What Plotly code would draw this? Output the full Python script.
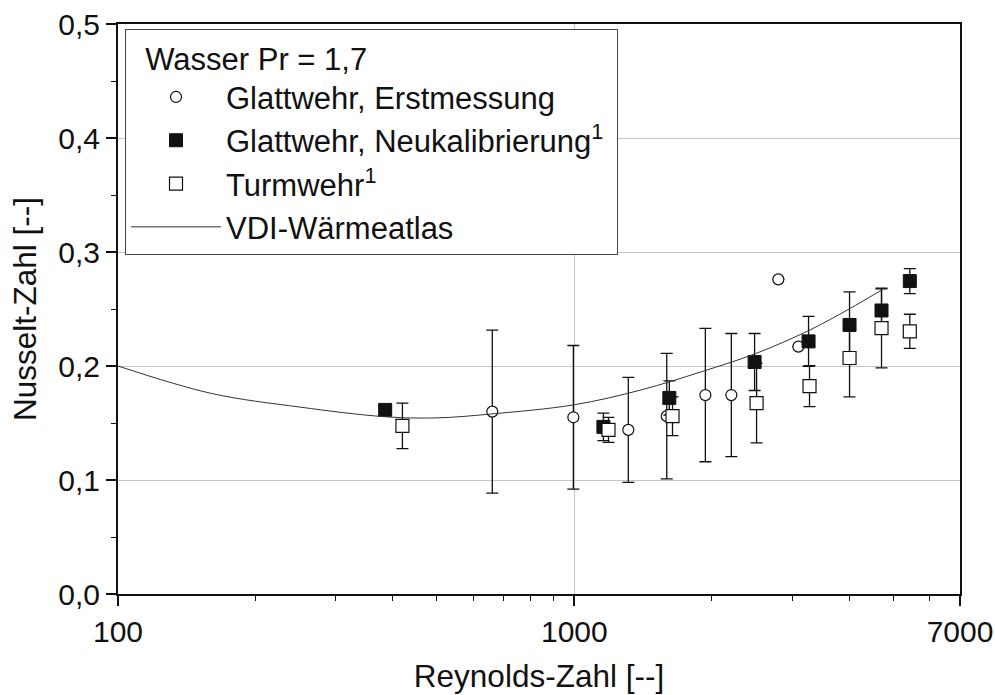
import plotly.graph_objects as go

# --- data ---
# Glattwehr, Erstmessung (open circles)
re_erst = [661, 995, 1313, 1594, 1937, 2208, 2799, 3097]
nu_erst = [0.160, 0.155, 0.144, 0.156, 0.1745, 0.1745, 0.276, 0.217]
err_erst = [0.0715, 0.063, 0.046, 0.055, 0.0585, 0.054, 0.0, 0.0]

# Glattwehr, Neukalibrierung (filled squares)
re_neu = [385, 1158, 1615, 2483, 3260, 4009, 4711, 5434]
nu_neu = [0.1615, 0.1466, 0.172, 0.2035, 0.2216, 0.2360, 0.2487, 0.2745]
err_neu = [0.0, 0.012, 0.015, 0.025, 0.022, 0.029, 0.019, 0.011]

# Turmwehr (open squares)
re_turm = [420, 1188, 1641, 2508, 3276, 4009, 4711, 5434]
nu_turm = [0.1475, 0.144, 0.156, 0.1675, 0.1824, 0.207, 0.2333, 0.2304]
err_turm = [0.020, 0.011, 0.017, 0.035, 0.018, 0.034, 0.035, 0.015]

# VDI-Wärmeatlas curve
re_vdi = [100, 160, 250, 385, 500, 661, 1000, 1400, 1900, 2500, 3260, 4000, 4730]
nu_vdi = [0.200, 0.176, 0.164, 0.1555, 0.1545, 0.158, 0.166, 0.179, 0.195, 0.211, 0.231, 0.250, 0.267]

x_tickvals = [100, 1000, 7000]
x_ticktext = ["100", "1000", "7000"]
x_minor = [200, 300, 400, 500, 600, 700, 800, 900, 2000, 3000, 4000, 5000, 6000]

FONT = "Liberation Sans, Arial, sans-serif"
BLACK = "#111111"

fig = go.Figure()

fig.add_trace(go.Scatter(
    x=re_erst, y=nu_erst, mode="markers", name="Glattwehr, Erstmessung",
    marker=dict(symbol="circle", size=11, color="white", line=dict(color=BLACK, width=1.2)),
    error_y=dict(type="data", array=err_erst, visible=True, color=BLACK, thickness=1.3, width=6),
))
fig.add_trace(go.Scatter(
    x=re_neu, y=nu_neu, mode="markers", name="Glattwehr, Neukalibrierung<sup>1</sup>\u00a0",
    marker=dict(symbol="square", size=13, color=BLACK, line=dict(color=BLACK, width=1)),
    error_y=dict(type="data", array=err_neu, visible=True, color=BLACK, thickness=1.3, width=6),
))
fig.add_trace(go.Scatter(
    x=re_turm, y=nu_turm, mode="markers", name="Turmwehr<sup>1</sup>",
    marker=dict(symbol="square", size=13, color="white", line=dict(color=BLACK, width=1.2)),
    error_y=dict(type="data", array=err_turm, visible=True, color=BLACK, thickness=1.3, width=6),
))
fig.add_trace(go.Scatter(
    x=re_vdi, y=nu_vdi, mode="lines", name="VDI-Wärmeatlas",
    line=dict(color="#333333", width=1, shape="spline"),
))

fig.update_layout(
    width=995, height=695,
    margin=dict(l=118, r=35, t=24, b=101),
    paper_bgcolor="white", plot_bgcolor="white",
    separators=",.",
    font=dict(family=FONT, size=30, color=BLACK),
    showlegend=True,
    legend=dict(
        x=7 / 842, y=1 - 5 / 570, xanchor="left", yanchor="top",
        bgcolor="white", bordercolor="#444444", borderwidth=1,
        font=dict(family=FONT, size=31, color=BLACK),
        title=dict(text="\u00a0\u00a0Wasser Pr = 1,7", font=dict(family=FONT, size=31, color=BLACK)),
        tracegroupgap=0,
        itemwidth=90,
    ),
    xaxis=dict(
        type="log", range=[2, 3.845098],
        tickmode="array", tickvals=x_tickvals, ticktext=x_ticktext,
        ticks="outside", ticklen=10, tickwidth=1.5, tickcolor=BLACK,
        showline=True, linewidth=2, linecolor=BLACK, mirror=True,
        showgrid=True, gridcolor="#c4c4c4", gridwidth=1,
        zeroline=False, automargin=False,
        tickfont=dict(size=30),
        title=dict(text="Reynolds-Zahl [--]", font=dict(size=31.5), standoff=18),
        minor=dict(tickmode="array", tickvals=x_minor, ticks="outside", ticklen=5,
                   tickwidth=1.2, tickcolor=BLACK, showgrid=False),
    ),
    yaxis=dict(
        range=[0, 0.5], tickmode="linear", tick0=0, dtick=0.1, tickformat=".1f",
        ticks="outside", ticklen=10, tickwidth=1.5, tickcolor=BLACK,
        showline=True, linewidth=2, linecolor=BLACK, mirror=True,
        showgrid=True, gridcolor="#c4c4c4", gridwidth=1,
        zeroline=False, automargin=False,
        tickfont=dict(size=30),
        title=dict(text="Nusselt-Zahl [--]", font=dict(size=31.5), standoff=12),
        minor=dict(tickmode="linear", tick0=0, dtick=0.05, ticks="outside", ticklen=5,
                   tickwidth=1.2, tickcolor=BLACK, showgrid=False),
    ),
)

fig.write_html("out.html")
